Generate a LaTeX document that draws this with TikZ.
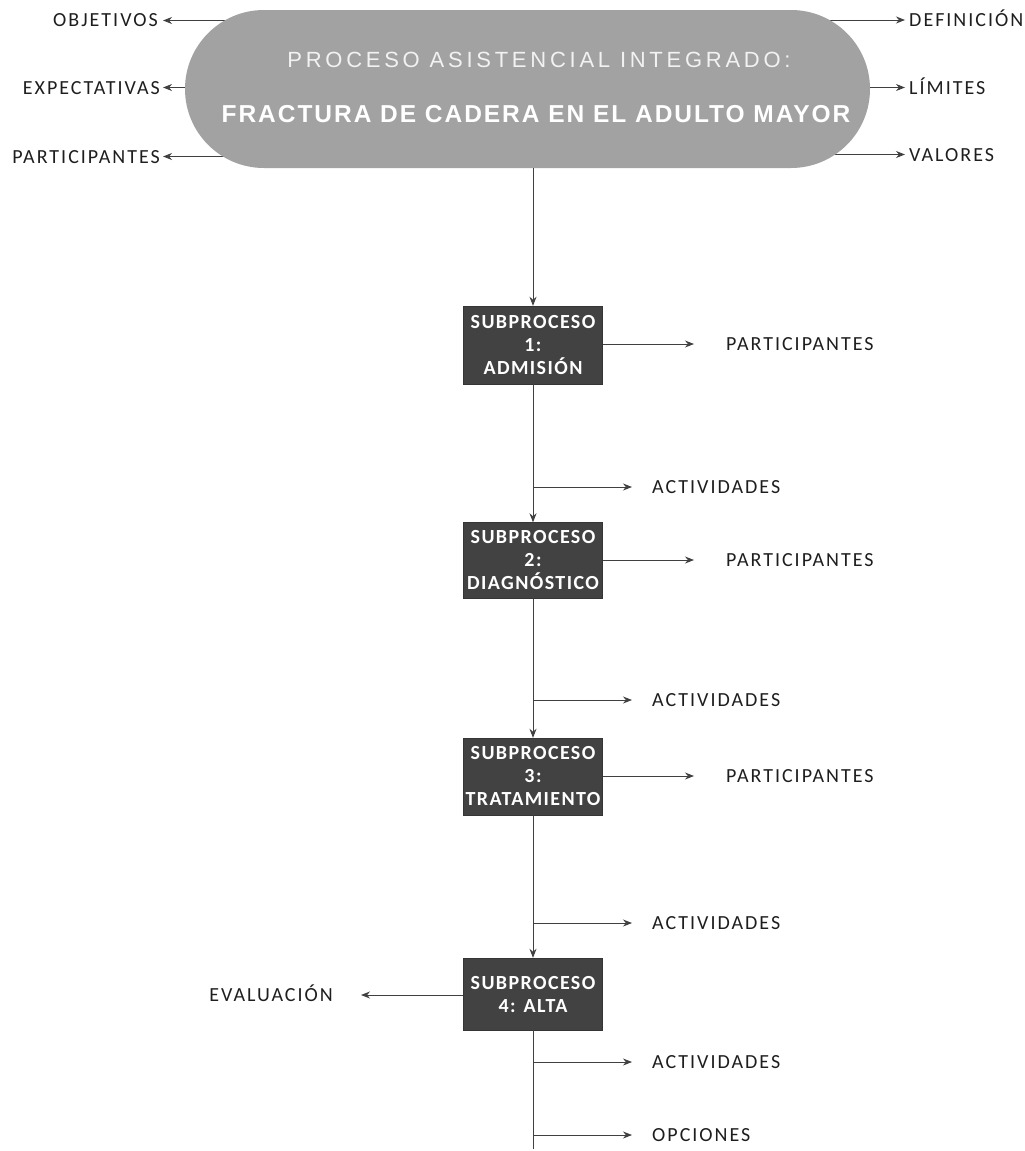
\documentclass[tikz,border=0pt]{standalone}
\usepackage{fontspec}
\setmainfont{Carlito}
\newfontfamily\lblfont[LetterSpace=10]{Carlito}
\newfontfamily\boxfont[LetterSpace=7]{Carlito}
\newfontfamily\headfont[LetterSpace=17]{Liberation Sans}
\newfontfamily\headbold[LetterSpace=8]{Liberation Sans Bold}
\usetikzlibrary{arrows.meta,backgrounds}
\definecolor{pillgray}{HTML}{A2A2A2}
\definecolor{boxgray}{HTML}{424242}
\definecolor{linegray}{HTML}{404040}
\definecolor{labeltext}{HTML}{1E1E1E}
\tikzset{
  lbl/.style={inner sep=0pt, text=labeltext, font=\lblfont\fontsize{20}{24}\selectfont},
  subbox/.style={fill=boxgray, draw=boxgray!80!black, minimum width=139pt, minimum height=78pt,
    inner sep=0pt, align=center, text=white, font=\boxfont\bfseries\fontsize{20}{23}\selectfont},
  arr/.style={draw=linegray, line width=0.9pt, -{Stealth[length=9pt,width=7pt]}},
  plain/.style={draw=linegray, line width=0.9pt},
}
\begin{document}
\begin{tikzpicture}[x=1pt,y=-1pt]
\useasboundingbox (0,0) rectangle (1025,1151);

% main process pill
\node[fill=pillgray, rounded corners=79pt, minimum width=685pt, minimum height=158pt, inner sep=0pt]
  (pill) at (527.5,89) {};
\node[anchor=base, text=white!90!gray, font=\headfont\fontsize{22}{26}\selectfont, inner sep=0pt]
  (t1) at (539,67.5) {PROCESO ASISTENCIAL INTEGRADO:};
\node[anchor=base, text=white, font=\headbold\fontsize{24.5}{28}\selectfont, inner sep=0pt]
  (t2) at (536,122) {FRACTURA DE CADERA EN EL ADULTO MAYOR};

% labels around the pill (with mid-cap attachment points)
\node[lbl, anchor=base east] (obj) at (158,27) {OBJETIVOS};
\node[lbl, anchor=base east] (exp) at (160,94) {EXPECTATIVAS};
\node[lbl, anchor=base east] (parT) at (160,163) {PARTICIPANTES};
\node[lbl, anchor=base west] (def) at (909,26.5) {DEFINICIÓN};
\node[lbl, anchor=base west] (lim) at (909,94) {LÍMITES};
\node[lbl, anchor=base west] (val) at (909,161) {VALORES};
\coordinate (objM) at ([yshift=6.5pt]obj.base east);
\coordinate (expM) at ([yshift=6.5pt]exp.base east);
\coordinate (parTM) at ([yshift=6.5pt]parT.base east);
\coordinate (defM) at ([yshift=6.5pt]def.base west);
\coordinate (limM) at ([yshift=6.5pt]lim.base west);
\coordinate (valM) at ([yshift=6.5pt]val.base west);

% subprocess boxes
\node[subbox] (s1) at (533,345) {SUBPROCESO\\1:\\ADMISIÓN};
\node[subbox, minimum height=76pt] (s2) at (533,560.5) {SUBPROCESO\\2:\\DIAGNÓSTICO};
\node[subbox, minimum height=77pt] (s3) at (533,776.5) {SUBPROCESO\\3:\\TRATAMIENTO};
\node[subbox, minimum height=72pt] (s4) at (533,994) {SUBPROCESO\\4: ALTA};

% labels along the chain
\node[lbl, anchor=base west] (p1) at (726,350.5) {PARTICIPANTES};
\node[lbl, anchor=base west] (a1) at (652,493.5) {ACTIVIDADES};
\node[lbl, anchor=base west] (p2) at (726,566.5) {PARTICIPANTES};
\node[lbl, anchor=base west] (a2) at (652,706.5) {ACTIVIDADES};
\node[lbl, anchor=base west] (p3) at (726,782.5) {PARTICIPANTES};
\node[lbl, anchor=base west] (a3) at (652,929.5) {ACTIVIDADES};
\node[lbl, anchor=base east] (ev) at (333,1001.5) {EVALUACIÓN};
\node[lbl, anchor=base west] (a4) at (652,1068.5) {ACTIVIDADES};
\node[lbl, anchor=base west] (op) at (652,1141.5) {OPCIONES};
\coordinate (p1M) at ([yshift=6.5pt]p1.base west);
\coordinate (p2M) at ([yshift=6.5pt]p2.base west);
\coordinate (p3M) at ([yshift=6.5pt]p3.base west);
\coordinate (a1M) at ([yshift=6.5pt]a1.base west);
\coordinate (a2M) at ([yshift=6.5pt]a2.base west);
\coordinate (a3M) at ([yshift=6.5pt]a3.base west);
\coordinate (a4M) at ([yshift=6.5pt]a4.base west);
\coordinate (opM) at ([yshift=6.5pt]op.base west);
\coordinate (evM) at ([yshift=6.5pt]ev.base east);
\coordinate (tail) at (533,1149);

\begin{scope}[on background layer]
  \draw[arr, shorten >=5pt] (pill.center |- objM) -- (objM);
  \draw[arr, shorten >=3pt] (pill.center |- expM) -- (expM);
  \draw[arr, shorten >=3pt] (pill.center |- parTM) -- (parTM);
  \draw[arr, shorten >=4pt] (pill.center |- defM) -- (defM);
  \draw[arr, shorten >=4pt] (pill.center |- limM) -- (limM);
  \draw[arr, shorten >=4pt] (pill.center |- valM) -- (valM);
\end{scope}

% main flow
\draw[arr] (pill.south -| s1.north) -- (s1.north);
\draw[arr] (s1.south) -- (s2.north);
\draw[arr] (s2.south) -- (s3.north);
\draw[arr] (s3.south) -- (s4.north);
\draw[plain] (s4.south) -- (tail);

% branches
\draw[arr, shorten >=32pt] (s1.east |- p1M) -- (p1M);
\draw[arr, shorten >=32pt] (s2.east |- p2M) -- (p2M);
\draw[arr, shorten >=32pt] (s3.east |- p3M) -- (p3M);
\draw[arr, shorten >=20pt] (s1.south |- a1M) -- (a1M);
\draw[arr, shorten >=20pt] (s2.south |- a2M) -- (a2M);
\draw[arr, shorten >=20pt] (s3.south |- a3M) -- (a3M);
\draw[arr, shorten >=20pt] (s4.south |- a4M) -- (a4M);
\draw[arr, shorten >=20pt] (s4.south |- opM) -- (opM);
\draw[arr, shorten >=28pt] (s4.west |- evM) -- (evM);
\end{tikzpicture}
\end{document}
